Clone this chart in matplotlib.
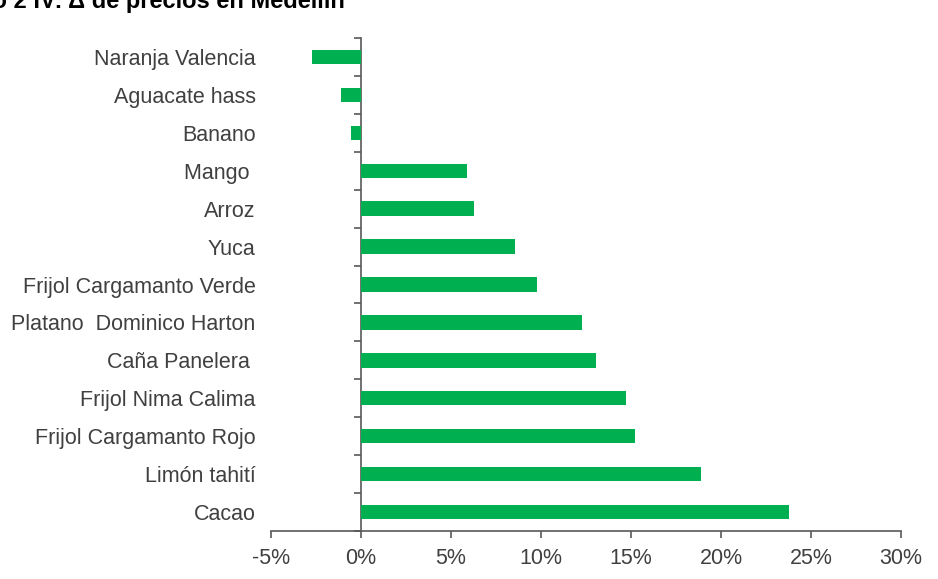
import numpy as np
import matplotlib
matplotlib.use("Agg")
import matplotlib.pyplot as plt

plt.rcParams["font.family"] = ["Liberation Sans", "DejaVu Sans"]

# ==================================================
# data
# ==================================================
TITLE = "Gráfico 2 IV: Δ de precios en Medellín"

PRODUCTS = [
    "Naranja Valencia", "Aguacate hass", "Banano", "Mango ", "Arroz", "Yuca",
    "Frijol Cargamanto Verde", "Platano  Dominico Harton", "Caña Panelera ",
    "Frijol Nima Calima", "Frijol Cargamanto Rojo", "Limón tahití", "Cacao",
]
CHANGE_PCT = [-2.7, -1.1, -0.55, 5.9, 6.3, 8.55, 9.8, 12.3, 13.05, 14.7, 15.2, 18.9, 23.8]

X_TICKS = [-5, 0, 5, 10, 15, 20, 25, 30]

GREEN = "#00B050"
AXIS_GRAY = "#595959"
TEXT_GRAY = "#404040"

# ==================================================
# plot
# ==================================================
fig = plt.figure(figsize=(9.38, 5.79), dpi=100)
ax = fig.add_axes([271 / 938, 1 - 531 / 579, 630 / 938, 493 / 579])

pos = np.arange(len(PRODUCTS))
ax.barh(pos, CHANGE_PCT, height=0.38, color=GREEN, zorder=2)

ax.set_xlim(X_TICKS[0], X_TICKS[-1])
ax.set_ylim(len(PRODUCTS) - 0.5, -0.5)

ax.set_xticks(X_TICKS)
ax.set_xticklabels([f"{t}%" for t in X_TICKS])
ax.tick_params(axis="x", direction="out", length=5, width=1.2, color=AXIS_GRAY,
               labelsize=15.5, labelcolor=TEXT_GRAY, pad=7)

ax.set_yticks(pos)
ax.set_yticklabels(PRODUCTS)
ax.tick_params(axis="y", length=0, labelsize=15.5, labelcolor=TEXT_GRAY, pad=11)

for s in ["top", "right", "left"]:
    ax.spines[s].set_visible(False)
ax.spines["bottom"].set_color(AXIS_GRAY)
ax.spines["bottom"].set_linewidth(1.2)

# zero line with category-boundary ticks
zero_at = (0 - X_TICKS[0]) / (X_TICKS[-1] - X_TICKS[0])
sec = ax.secondary_yaxis(zero_at)
sec.set_yticks(np.arange(-0.5, len(PRODUCTS), 1.0))
sec.set_yticklabels([])
sec.tick_params(axis="y", direction="out", length=5, width=1.2, color=AXIS_GRAY)
sec.spines["left"].set_color(AXIS_GRAY)
sec.spines["left"].set_linewidth(1.2)

# title sits partly above the top edge, as in the source image
fig.text(345 / 938, 1 - 8 / 579, TITLE, ha="right", va="baseline",
         fontsize=17, fontweight="bold", color="black")

fig.savefig("out.png", dpi=100)
